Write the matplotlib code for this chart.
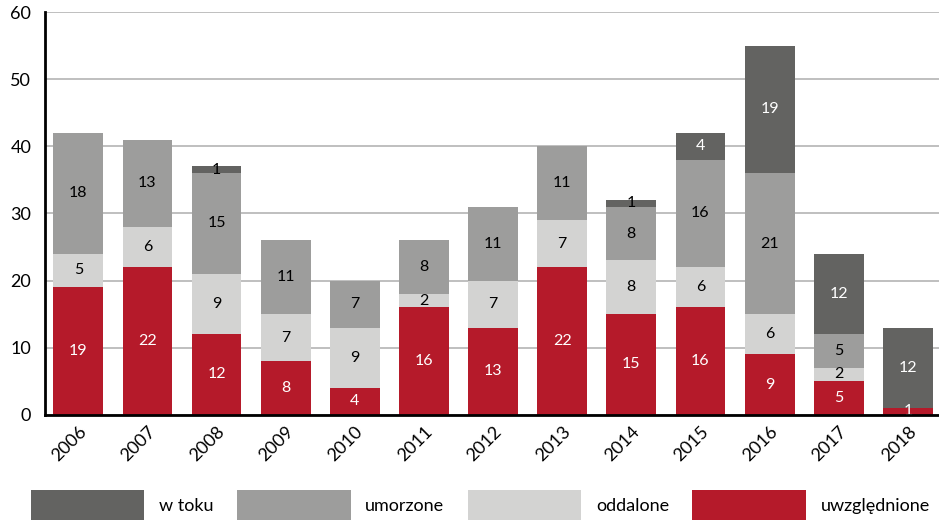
import matplotlib.pyplot as plt
import numpy as np

plt.rcParams['font.family'] = ['Lato', 'DejaVu Sans']

lata = ['2006', '2007', '2008', '2009', '2010', '2011', '2012',
        '2013', '2014', '2015', '2016', '2017', '2018']
uwzglednione = [19, 22, 12, 8, 4, 16, 13, 22, 15, 16, 9, 5, 1]
oddalone = [5, 6, 9, 7, 9, 2, 7, 7, 8, 6, 6, 2, 0]
umorzone = [18, 13, 15, 11, 7, 8, 11, 11, 8, 16, 21, 5, 0]
w_toku = [0, 0, 1, 0, 0, 0, 0, 0, 1, 4, 19, 12, 12]

serie = [
    ('uwzględnione', uwzglednione, '#b51a2a', 'white'),
    ('oddalone', oddalone, '#d3d3d2', 'black'),
    ('umorzone', umorzone, '#9d9d9c', 'black'),
    ('w toku', w_toku, '#636361', 'white'),
]

fig = plt.figure(figsize=(9.39, 5.25), dpi=100)
ax = fig.add_axes([0.048, 0.21, 0.952, 0.767])

x = np.arange(len(lata))
dol = np.zeros(len(lata))
uchwyty = {}
for nazwa, wart, kolor, kol_txt in serie:
    wart = np.array(wart)
    b = ax.bar(x, wart, 0.72, bottom=dol, color=kolor, zorder=3)
    uchwyty[nazwa] = b
    for i, v in enumerate(wart):
        if v == 0:
            continue
        kt = kol_txt
        if nazwa == 'w toku' and v == 1:
            kt = 'black'
        ax.text(x[i], dol[i] + v / 2, str(v), ha='center', va='center',
                color=kt, fontsize=11.5, zorder=4)
    dol += wart

ax.set_ylim(0, 60)
ax.set_xlim(-0.48, 12.45)
ax.set_yticks(range(0, 61, 10))
ax.yaxis.grid(True, color='#b4b4b4', linewidth=1.2, zorder=0)
ax.set_xticks(x)
ax.set_xticklabels(lata, rotation=45, ha='right', rotation_mode='anchor', fontsize=13)
ax.tick_params(axis='y', labelsize=13, length=0, pad=10)
ax.tick_params(axis='x', length=0, pad=6)
for s in ['top', 'right']:
    ax.spines[s].set_visible(False)
ax.spines['left'].set_linewidth(2)
ax.spines['bottom'].set_linewidth(2)
ax.spines['left'].set_zorder(5)
ax.spines['bottom'].set_zorder(5)

kolejnosc = ['w toku', 'umorzone', 'oddalone', 'uwzględnione']
fig.legend([uchwyty[k] for k in kolejnosc], kolejnosc, loc='lower left',
           bbox_to_anchor=(0.025, -0.005), ncol=4, frameon=False, fontsize=13,
           handlelength=6.3, handleheight=2.2, handletextpad=0.8,
           columnspacing=1.3, borderaxespad=0)

fig.savefig('out.png', dpi=100)
